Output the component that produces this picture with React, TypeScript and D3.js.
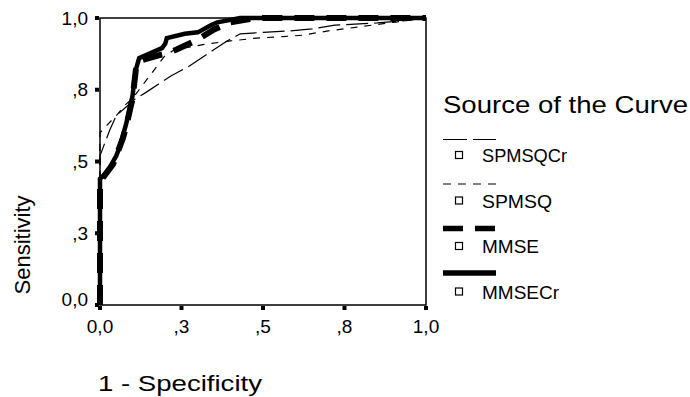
import * as d3 from 'd3'

// ROC curves: false positive rate (1 - specificity) vs sensitivity
const spmsqcrFpr = [0, 0, 0.01, 0.03, 0.05, 0.08, 0.11, 0.14, 0.18, 0.22, 0.27, 0.31, 0.35, 0.39, 0.43, 0.5, 0.58, 0.65, 0.72, 0.85, 0.93, 1]
const spmsqcrTpr = [0, 0.52, 0.55, 0.61, 0.66, 0.69, 0.72, 0.74, 0.77, 0.8, 0.83, 0.86, 0.89, 0.92, 0.945, 0.95, 0.955, 0.962, 0.975, 0.983, 0.99, 1]

const spmsqFpr = [0, 0, 0.02, 0.05, 0.08, 0.1, 0.12, 0.14, 0.16, 0.18, 0.2, 0.23, 0.28, 0.33, 0.4, 0.48, 0.56, 0.62, 0.7, 0.8, 0.9, 1]
const spmsqTpr = [0, 0.6, 0.625, 0.66, 0.7, 0.72, 0.75, 0.78, 0.81, 0.84, 0.87, 0.89, 0.9, 0.91, 0.92, 0.93, 0.935, 0.94, 0.955, 0.97, 0.985, 1]

const mmseFpr = [0, 0, 0.02, 0.04, 0.05, 0.06, 0.07, 0.08, 0.09, 0.1, 0.105, 0.11, 0.12, 0.15, 0.18, 0.2, 0.235, 0.3, 0.35, 0.4, 0.45, 0.5, 1]
const mmseTpr = [0, 0.43, 0.46, 0.49, 0.52, 0.55, 0.58, 0.62, 0.67, 0.72, 0.77, 0.82, 0.85, 0.86, 0.87, 0.875, 0.89, 0.925, 0.96, 0.985, 0.995, 1, 1]

const mmsecrFpr = [0, 0, 0.01, 0.03, 0.05, 0.06, 0.07, 0.08, 0.09, 0.1, 0.105, 0.11, 0.12, 0.15, 0.19, 0.2, 0.205, 0.26, 0.3, 0.34, 0.36, 0.43, 1]
const mmsecrTpr = [0, 0.44, 0.45, 0.48, 0.52, 0.55, 0.59, 0.63, 0.68, 0.73, 0.78, 0.82, 0.86, 0.875, 0.895, 0.91, 0.93, 0.945, 0.95, 0.975, 0.985, 1, 1]

const tickValues = [0, 0.25, 0.5, 0.75, 1]
const tickLabels = ['0,0', ',3', ',5', ',8', '1,0']

const curves = [
  { name: 'SPMSQCr', fpr: spmsqcrFpr, tpr: spmsqcrTpr, width: 1.2, dash: '22 6' },
  { name: 'SPMSQ', fpr: spmsqFpr, tpr: spmsqTpr, width: 1.2, dash: '7 7' },
  { name: 'MMSE', fpr: mmseFpr, tpr: mmseTpr, width: 6, dash: '20 12' },
  { name: 'MMSECr', fpr: mmsecrFpr, tpr: mmsecrTpr, width: 4.5, dash: null as string | null },
]

const legendDash = ['24 6', '8 7', '20 12', null]
// label widths in the picture (the text there is stretched sideways)
const legendWidths = [85, 70, 57, 77]

export default function App() {
  const width = 690
  const height = 397
  const left = 100
  const right = 426
  const top = 18
  const bottom = 305

  const x = d3.scaleLinear().domain([0, 1]).range([left, right])
  const y = d3.scaleLinear().domain([0, 1]).range([bottom, top])

  const line = d3.line<[number, number]>()
    .x(d => x(d[0]))
    .y(d => y(d[1]))

  const font = "'Liberation Sans', Arial, sans-serif"

  return (
    <svg
      width={width}
      height={height}
      style={{ position: 'absolute', left: 0, top: 0, background: '#fff' }}
      fontFamily={font}
    >
      {/* frame */}
      <rect x={left} y={top} width={right - left} height={bottom - top} fill="none" stroke="#000" strokeWidth={1.5} />

      {/* y ticks */}
      {tickValues.map((t, i) => (
        <g key={'y' + i}>
          <rect x={left - 5} y={y(t) - 2} width={4} height={4} fill="#000" />
          <text x={88} y={y(t) - (t === 0 ? 6 : 0)} dy="0.35em" textAnchor="end" fontSize={19}>
            {tickLabels[i]}
          </text>
        </g>
      ))}

      {/* x ticks */}
      {tickValues.map((t, i) => (
        <g key={'x' + i}>
          <rect x={x(t) - 2} y={bottom + 1} width={4} height={4} fill="#000" />
          <text x={x(t)} y={326} dy="0.35em" textAnchor="middle" fontSize={19}>
            {tickLabels[i]}
          </text>
        </g>
      ))}

      {/* curves */}
      {curves.map(c => (
        <path
          key={c.name}
          d={line(c.fpr.map((f, i) => [f, c.tpr[i]] as [number, number])) || ''}
          fill="none"
          stroke="#000"
          strokeWidth={c.width}
          strokeDasharray={c.dash || undefined}
          strokeLinejoin="miter"
        />
      ))}

      {/* axis titles */}
      <text x={98} y={391} fontSize={22} textLength={164} lengthAdjust="spacingAndGlyphs">1 - Specificity</text>
      <text transform="translate(30,245) rotate(-90)" textAnchor="middle" fontSize={22}>Sensitivity</text>

      {/* legend */}
      <text x={443} y={113} fontSize={24} textLength={245} lengthAdjust="spacingAndGlyphs">Source of the Curve</text>
      {curves.map((c, i) => {
        const ly = 139.5 + 44.5 * i
        const sy = 155 + 45.5 * i
        return (
          <g key={'lg' + c.name}>
            <line
              x1={443}
              x2={496}
              y1={ly}
              y2={ly}
              stroke="#000"
              strokeWidth={c.width > 2 ? 5.5 : 1.2}
              strokeDasharray={legendDash[i] || undefined}
            />
            <rect x={455.5} y={sy - 3.5} width={7} height={7} fill="#fff" stroke="#000" strokeWidth={1.2} />
            <text x={482} y={sy + 7} fontSize={18} textLength={legendWidths[i]} lengthAdjust="spacingAndGlyphs">{c.name}</text>
          </g>
        )
      })}
    </svg>
  )
}
